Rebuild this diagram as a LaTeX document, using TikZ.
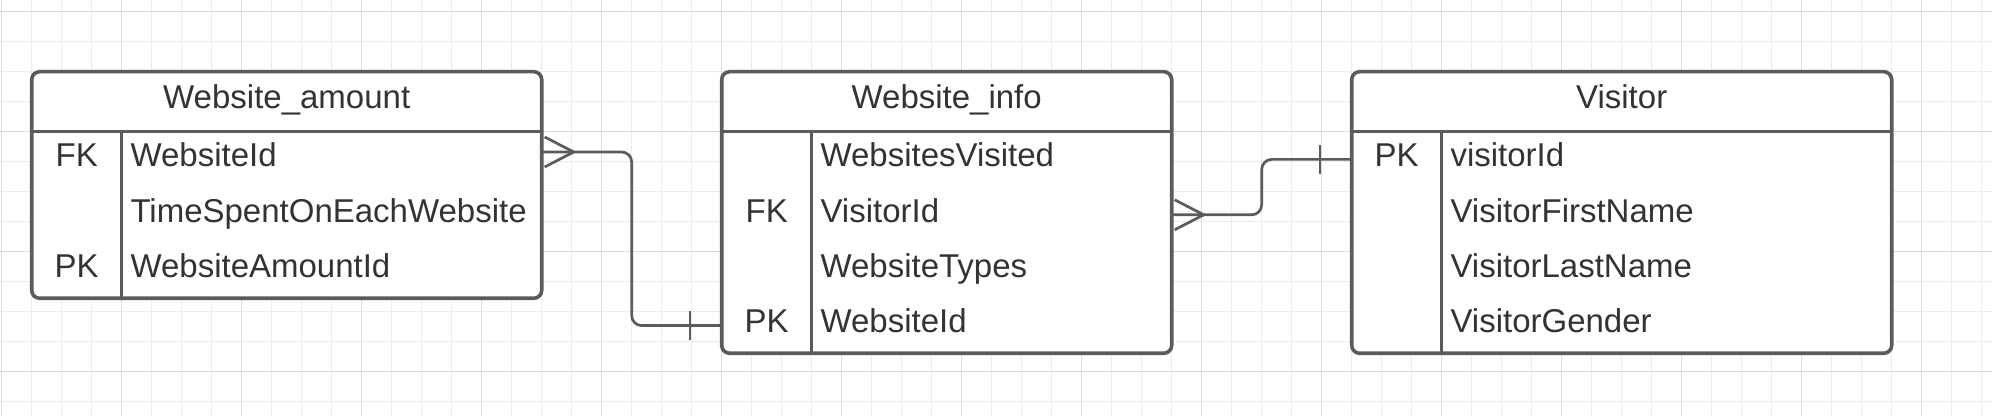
\documentclass[tikz,border=0pt]{standalone}
\usepackage{fontspec}
\setmainfont{Liberation Sans}
\usepackage{tikz}
\usetikzlibrary{positioning,calc}
\definecolor{erline}{HTML}{5B5B5B}
\definecolor{ertext}{HTML}{333333}
\definecolor{gridminor}{HTML}{ECECEC}
\definecolor{gridmajor}{HTML}{DCDCDC}
\tikzset{
  tablebox/.style={draw=erline, fill=white, line width=1.8pt, rounded corners=4pt, anchor=north west, inner sep=0pt, outer sep=0pt},
  tableline/.style={draw=erline, line width=1.6pt},
  titlecell/.style={anchor=north west, minimum height=30pt, inner sep=0pt, outer sep=0pt, text height=11.5pt, text depth=5pt, font=\fontsize{16.5}{19}\selectfont, text=ertext},
  keycell/.style={anchor=north west, minimum width=45pt, inner sep=0pt, outer sep=0pt},
  keytext/.style={inner sep=0pt, minimum height=27.7pt, text height=11.9pt, text depth=4.5pt, font=\fontsize{16.5}{19}\selectfont, text=ertext},
  fieldtext/.style={anchor=west, inner sep=0pt, minimum height=27.7pt, text height=11.9pt, text depth=4.5pt, font=\fontsize{16.5}{19}\selectfont, text=ertext},
  relline/.style={draw=erline, line width=1.35pt},
  gridline/.style={draw=gridminor, line width=0.5pt},
  gridbold/.style={draw=gridmajor, line width=0.5pt}
}
\begin{document}
\begin{tikzpicture}[x=0.5pt, y=-0.5pt]
    \useasboundingbox[fill=white] (0,0) rectangle (1992,416);
    % background grid
    \foreach \k in {0,...,66} {\draw[gridline] ({1.7+30*\k},0) -- ++(0,416);}
    \foreach \k in {0,...,13} {\draw[gridline] (0,{11.7+30*\k}) -- ++(1992,0);}
    \foreach \k in {0,...,16} {\draw[gridbold] ({1.7+120*\k},0) -- ++(0,416);}
    \foreach \k in {0,...,3} {\draw[gridbold] (0,{11.7+120*\k}) -- ++(1992,0);}

    % Website_amount
    \node[tablebox, minimum width=255pt, minimum height=113.3pt] (amount) at (31.7,71.7) {};
    \node[titlecell, minimum width=255pt] (amount-title) at (amount.north west) {Website\_amount};
    \node[keycell, minimum height=83.3pt] (amount-key) at (amount-title.south west) {};
    \draw[tableline] (amount-title.south west) -- (amount-title.south east);
    \draw[tableline] (amount-key.north east) -- (amount-key.south east);
    \node[fieldtext] (amount-f1) at ([xshift=4.2pt, yshift=-13.85pt]amount-key.north east) {WebsiteId};
    \node[fieldtext] (amount-f2) at ([yshift=-27.75pt]amount-f1.west) {TimeSpentOnEachWebsite};
    \node[fieldtext] (amount-f3) at ([yshift=-27.75pt]amount-f2.west) {WebsiteAmountId};
    \node[keytext] (amount-k1) at (amount-key.north |- amount-f1) {FK};
    \node[keytext] (amount-k3) at (amount-key.north |- amount-f3) {PK};

    % Website_info
    \node[tablebox, minimum width=225pt, minimum height=140.8pt, right=90pt of amount.north east, anchor=north west] (info) {};
    \node[titlecell, minimum width=225pt] (info-title) at (info.north west) {Website\_info};
    \node[keycell, minimum height=110.8pt] (info-key) at (info-title.south west) {};
    \draw[tableline] (info-title.south west) -- (info-title.south east);
    \draw[tableline] (info-key.north east) -- (info-key.south east);
    \node[fieldtext] (info-f1) at ([xshift=4.2pt, yshift=-13.85pt]info-key.north east) {WebsitesVisited};
    \node[fieldtext] (info-f2) at ([yshift=-27.7pt]info-f1.west) {VisitorId};
    \node[fieldtext] (info-f3) at ([yshift=-27.7pt]info-f2.west) {WebsiteTypes};
    \node[fieldtext] (info-f4) at ([yshift=-27.7pt]info-f3.west) {WebsiteId};
    \node[keytext] (info-k2) at (info-key.north |- info-f2) {FK};
    \node[keytext] (info-k4) at (info-key.north |- info-f4) {PK};

    % Visitor
    \node[tablebox, minimum width=270pt, minimum height=140.8pt, right=90pt of info.north east, anchor=north west] (visitor) {};
    \node[titlecell, minimum width=270pt] (visitor-title) at (visitor.north west) {Visitor};
    \node[keycell, minimum height=110.8pt] (visitor-key) at (visitor-title.south west) {};
    \draw[tableline] (visitor-title.south west) -- (visitor-title.south east);
    \draw[tableline] (visitor-key.north east) -- (visitor-key.south east);
    \node[fieldtext] (visitor-f1) at ([xshift=4.2pt, yshift=-13.85pt]visitor-key.north east) {visitorId};
    \node[fieldtext] (visitor-f2) at ([yshift=-27.7pt]visitor-f1.west) {VisitorFirstName};
    \node[fieldtext] (visitor-f3) at ([yshift=-27.7pt]visitor-f2.west) {VisitorLastName};
    \node[fieldtext] (visitor-f4) at ([yshift=-27.7pt]visitor-f3.west) {VisitorGender};
    \node[keytext] (visitor-k1) at (visitor-key.north |- visitor-f1) {PK};

    % relations: many at the crow's foot, one at the bar
    \coordinate (amount-many) at ($(amount.east |- amount-f1)+(0,-7.4)$);
    \coordinate (info-one) at (info.west |- info-f4);
    \coordinate (info-many) at (info.east |- info-f2);
    \coordinate (visitor-one) at (visitor.west |- visitor-f1);
    \draw[relline, rounded corners=5pt] (amount-many) -| ($(amount-many)!0.5!(info-one)$) |- (info-one);
    \draw[relline] ($(amount-many)+(3,-15)$) -- ($(amount-many)+(32,0)$) -- ($(amount-many)+(3,15)$);
    \draw[relline] ($(info-one)+(-31.7,-14.5)$) -- ($(info-one)+(-31.7,14.5)$);
    \draw[relline, rounded corners=5pt] (info-many) -| ($(info-many)!0.5!(visitor-one)$) |- (visitor-one);
    \draw[relline] ($(info-many)+(3,-15)$) -- ($(info-many)+(32,0)$) -- ($(info-many)+(3,15)$);
    \draw[relline] ($(visitor-one)+(-31.7,-14.5)$) -- ($(visitor-one)+(-31.7,14.5)$);
\end{tikzpicture}
\end{document}
